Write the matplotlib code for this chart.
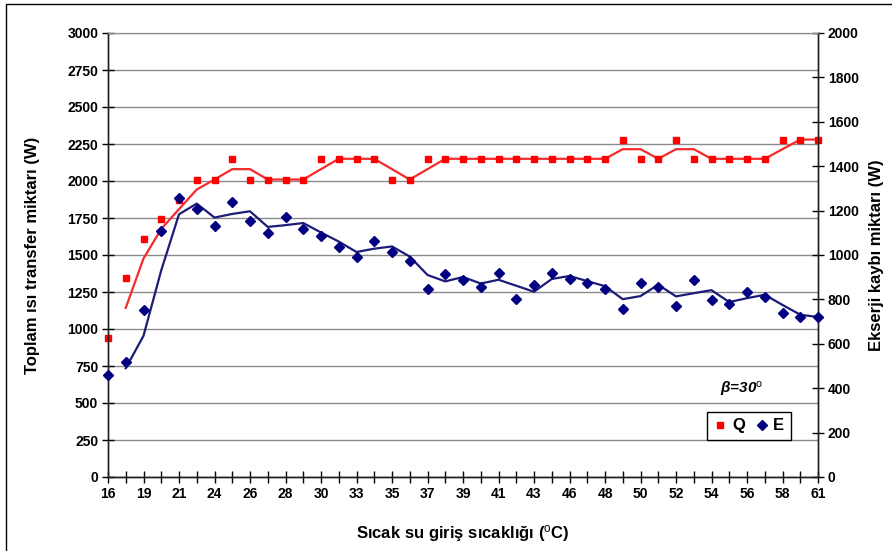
"""
Toplam isi transferi (Q) ve ekserji kaybi (E) - sicak su giris sicakligina gore.
beta = 30 derece. Cizgiler 2 noktali hareketli ortalama.
"""
import numpy as np
import pandas as pd
import matplotlib
matplotlib.use("Agg")
import matplotlib.pyplot as plt
from matplotlib.lines import Line2D
from matplotlib.patches import Rectangle

plt.rcParams["font.family"] = ["Liberation Sans", "DejaVu Sans"]
plt.rcParams["mathtext.fontset"] = "custom"
plt.rcParams["mathtext.rm"] = "Liberation Sans"
plt.rcParams["mathtext.it"] = "Liberation Sans:italic"

# sicak su giris sicakligi (kategori ekseni)
sicaklik = [16, 17, 19, 20, 21, 22, 24, 25, 26, 27, 28, 29, 30, 31, 33, 34, 35, 36, 37, 38,
            39, 40, 41, 42, 43, 45, 46, 47, 48, 49, 50, 51, 52, 53, 54, 55, 56, 57, 58, 60, 61]
# toplam isi transfer miktari (W), sol eksen
Q = [940, 1345, 1607, 1745, 1875, 2010, 2010, 2150, 2010, 2010,
     2010, 2010, 2150, 2150, 2150, 2150, 2010, 2010, 2150, 2150,
     2150, 2150, 2150, 2150, 2150, 2150, 2150, 2150, 2150, 2280,
     2150, 2150, 2280, 2150, 2150, 2150, 2150, 2150, 2280, 2280, 2280]
# ekserji kaybi miktari (W), sag eksen
E = [460, 520, 752, 1110, 1257, 1206, 1131, 1239, 1155, 1098,
     1171, 1117, 1086, 1035, 992, 1065, 1012, 974, 846, 916,
     886, 857, 920, 803, 866, 918, 893, 872, 847, 755,
     875, 857, 770, 886, 797, 779, 832, 810, 740, 722, 719]

RED = "#ff0000"; QLINE = "#f52a2a"; NAVY = "#000080"; ELINE = "#1c1c78"
TICKFONT = dict(fontsize=10, fontweight="bold")
LABFONT = dict(fontsize=12, fontweight="bold")

x = np.arange(len(sicaklik))
q_ma = pd.Series(Q).rolling(2).mean()
e_ma = pd.Series(E).rolling(2).mean()

fig = plt.figure(figsize=(8.92, 5.51), dpi=100)
ax = fig.add_axes([108/892, 1-477/551, 710/892, 444/551])
ax2 = ax.twinx()

# Q: sol eksen
ax.plot(x, q_ma, color=QLINE, lw=1.6, zorder=3)
ax.plot(x, Q, "s", color=RED, ms=5, ls="none", zorder=4, clip_on=False)
ax.set_xlim(0, len(x)-1); ax.set_ylim(0, 3000)
ax.set_yticks(np.arange(0, 3001, 250))
ax.yaxis.grid(True, color="#8a8a8a", lw=1.0); ax.set_axisbelow(True)
ax.set_xticks(x)
ax.set_xticklabels([str(t) if i % 2 == 0 else "" for i, t in enumerate(sicaklik)], **TICKFONT)
for lab in ax.get_yticklabels():
    lab.set_fontsize(10); lab.set_fontweight("bold")
ax.tick_params(axis="both", direction="inout", length=8, width=1, colors="black", pad=3)
ax.set_ylabel("Toplam ısı transfer miktarı (W)", **LABFONT)
ax.yaxis.set_label_coords(-0.096, 0.5)
ax.set_xlabel("Sıcak su giriş sıcaklığı ($^{\\mathrm{o}}$C)", **LABFONT)
ax.xaxis.set_label_coords(0.5, -0.104)

# E: sag eksen
ax2.plot(x, e_ma, color=ELINE, lw=1.6, zorder=3)
ax2.plot(x, E, "D", color=NAVY, ms=5.5, ls="none", zorder=4, clip_on=False)
ax2.set_ylim(0, 2000); ax2.set_yticks(np.arange(0, 2001, 200))
for lab in ax2.get_yticklabels():
    lab.set_fontsize(10); lab.set_fontweight("bold")
ax2.tick_params(axis="y", direction="inout", length=8, width=1, colors="black", pad=3)
ax2.set_ylabel("Ekserji kaybı miktarı (W)", rotation=90, **LABFONT)
ax2.yaxis.set_label_coords(1.072, 0.5)

for a in (ax, ax2):
    a.spines["top"].set_color("#8a8a8a")
    for s in ("left", "right", "bottom"):
        a.spines[s].set_color("#202020"); a.spines[s].set_linewidth(1.0)

handles = [Line2D([], [], marker="s", color=RED, ls="none", ms=5),
           Line2D([], [], marker="D", color=NAVY, ls="none", ms=5.5)]
leg = ax2.legend(handles, ["Q", "E"], ncol=2, loc="lower left",
                 bbox_to_anchor=(0.8437, 0.0833, 0.1183, 0.0834), mode="expand",
                 borderaxespad=0, handlelength=0.8, handletextpad=0.3, columnspacing=1.0,
                 prop=dict(size=12, weight="bold"), fancybox=False, framealpha=1)
leg.get_frame().set_edgecolor("black"); leg.get_frame().set_linewidth(1.0)
ax2.text(0.893, 0.198, "β=30$^{\\mathrm{o}}$", transform=ax.transAxes, ha="center", va="center",
         fontsize=11, fontweight="bold", fontstyle="italic")

# dis cerceve
fig.add_artist(Rectangle((6/892, -0.02), 1.1, 1-4/551+0.02, transform=fig.transFigure,
                         fill=False, ec="black", lw=1.0))

fig.savefig("out.png", dpi=100)
